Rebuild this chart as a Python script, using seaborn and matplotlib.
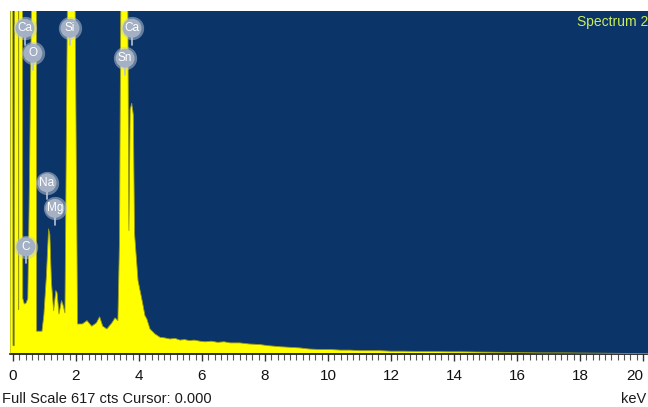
import numpy as np
import pandas as pd
import seaborn as sns
import matplotlib
matplotlib.use("Agg")
import matplotlib.pyplot as plt
from matplotlib.ticker import MultipleLocator

# ---- data ----
energy_kev = [
    -0.095, -0.07, -0.02, 0.00, 0.04, 0.07, 0.17, 0.18, 0.19, 0.28,
    0.31, 0.36, 0.42, 0.47, 0.52, 0.60, 0.66, 0.72, 0.75, 0.80,
    0.92, 0.98, 1.06, 1.13, 1.17, 1.22, 1.29, 1.36, 1.40, 1.46,
    1.54, 1.58, 1.65, 1.73, 1.85, 1.97, 2.05, 2.20, 2.35, 2.50,
    2.65, 2.75, 2.85, 2.98, 3.14, 3.24, 3.33, 3.38, 3.43, 3.53,
    3.64, 3.68, 3.72, 3.77, 3.82, 3.86, 3.97, 4.10, 4.19, 4.25,
    4.35, 4.51, 4.67, 4.82, 4.98, 5.15, 5.30, 5.45, 5.60, 5.75,
    5.94, 6.10, 6.30, 6.50, 6.70, 6.90, 7.20, 7.50, 7.84, 8.10,
    8.50, 8.80, 9.10, 9.40, 9.75, 10.10, 10.40, 10.70, 11.00, 11.30,
    11.65, 12.00, 12.40, 12.90, 13.40, 13.80, 14.20, 14.80, 15.50, 16.10,
    16.70, 17.50, 18.60, 19.50, 20.16,
]
counts = [
    0, 2500, 2500, 15, 15, 2500, 2500, 80, 2500, 2500,
    100, 90, 92, 100, 300, 700, 3000, 2500, 41, 41,
    41, 70, 140, 225, 215, 130, 78, 114, 110, 72,
    96, 90, 74, 650, 3000, 650, 54, 54, 60, 50,
    56, 67, 50, 45, 56, 65, 60, 200, 700, 3000,
    700, 222, 440, 451, 430, 216, 132, 96, 69, 63,
    45, 36, 30, 29, 27, 28, 25, 26, 24, 25,
    23, 22, 23, 21, 22, 20, 20, 18, 17, 15,
    13, 12, 11, 9, 8, 8, 7, 7, 6, 6,
    6, 5, 5, 4.5, 4.5, 4, 4, 3.5, 3, 2.5,
    2, 2, 1.5, 1, 1,
]

label_names = ["Ca", "O", "Si", "Ca", "Sn", "Na", "Mg", "C"]
label_kev = [0.38, 0.63, 1.81, 3.78, 3.56, 1.08, 1.33, 0.41]
label_cts = [586, 541, 586, 586, 532, 308, 262, 193]

tick_values = [0, 2, 4, 6, 8, 10, 12, 14, 16, 18, 20]
full_scale = 617
footer_text = "Full Scale 617 cts Cursor: 0.000"
spectrum_title = "Spectrum 2"
unit_text = "keV"

# ---- style ----
sns.set_style("white")
plt.rcParams["font.family"] = ["Liberation Sans", "DejaVu Sans"]

W, H = 648, 407
fig = plt.figure(figsize=(W / 100, H / 100), dpi=100)
fig.patch.set_facecolor("white")
ax = fig.add_axes([10 / W, 1 - 354 / H, 638 / W, 343 / H])
ax.set_facecolor("#0b3468")

df = pd.DataFrame({"keV": energy_kev, "cts": counts})
ax.fill_between(df["keV"], df["cts"], 0, color="#ffff00", lw=0, zorder=2)
sns.lineplot(data=df, x="keV", y="cts", ax=ax, color="#9a9a18", lw=0.6,
             sort=False, estimator=None, zorder=3)

ax.set_xlim(-0.095, 20.16)
ax.set_ylim(0, full_scale)
ax.set_xlabel("")
ax.set_ylabel("")
ax.set_yticks([])

ax.set_xticks(tick_values)
labels = ax.set_xticklabels([str(t) for t in tick_values])
labels[-1].set_horizontalalignment("right")
ax.xaxis.set_minor_locator(MultipleLocator(0.2))
ax.tick_params(axis="x", which="major", direction="out", length=5, width=1,
               color="#333333", pad=6, labelsize=11, labelcolor="#111111",
               bottom=True)
ax.tick_params(axis="x", which="minor", direction="out", length=4, width=0.8,
               color="#555555", bottom=True)
for s in ["left", "top", "right"]:
    ax.spines[s].set_visible(False)
ax.spines["bottom"].set_color("#111111")
ax.spines["bottom"].set_linewidth(1.2)

# element markers
for name, k, c in zip(label_names, label_kev, label_cts):
    ax.plot([k, k], [c - 12, c - 30], color="#b8c2d2", lw=1.2, zorder=4,
            clip_on=False)
ax.scatter(label_kev, label_cts, s=280, c="#c2cad8", alpha=0.5, lw=0,
           zorder=5, clip_on=False)
ax.scatter(label_kev, label_cts, s=185, c="#a4b0c4", edgecolors="none",
           zorder=6, clip_on=False)
for name, k, c in zip(label_names, label_kev, label_cts):
    ax.text(k, c, name, ha="center", va="center", color="white",
            fontsize=8.5, zorder=7, clip_on=False)

fig.text(577 / W, 1 - 22 / H, spectrum_title, color="#c9ec5c", fontsize=10,
         ha="left", va="center")
fig.text(2 / W, 1 - 399 / H, footer_text, color="#1a1a1a", fontsize=10.5,
         ha="left", va="center")
fig.text(646 / W, 1 - 399 / H, unit_text, color="#1a1a1a", fontsize=10.5,
         ha="right", va="center")

fig.savefig("out.png", dpi=100, facecolor="white")
